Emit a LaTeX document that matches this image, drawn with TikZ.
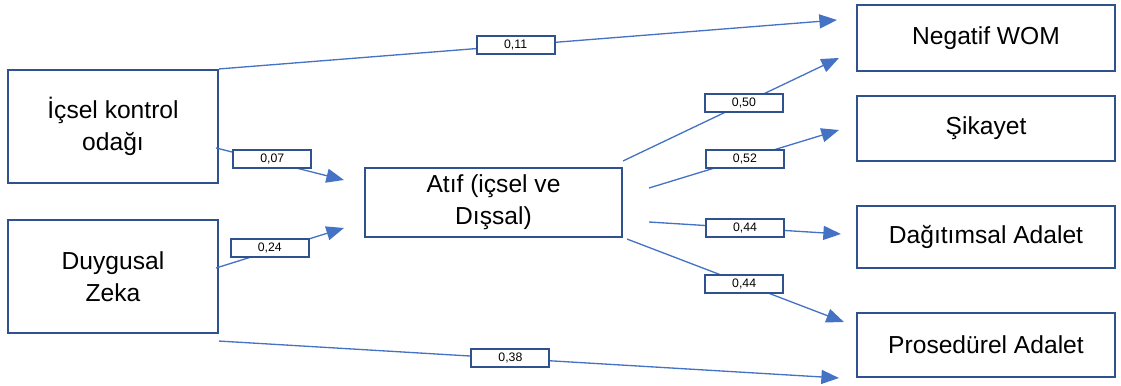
\documentclass[tikz,border=0pt]{standalone}
\usepackage{fontspec}
\setmainfont{Liberation Sans}
\usetikzlibrary{arrows.meta}
\definecolor{boxblue}{HTML}{2F528F}
\definecolor{lineblue}{HTML}{4472C4}
\begin{document}
\begin{tikzpicture}[
    var/.style={draw=boxblue, line width=1.2pt, fill=white, align=center,
      inner sep=0pt, font=\fontsize{14}{18}\selectfont},
    coef/.style={draw=boxblue, line width=1.1pt, fill=white, inner sep=0pt,
      minimum width=1.56cm, minimum height=0.36cm, font=\fontsize{7}{8}\selectfont},
    path/.style={draw=lineblue, line width=0.75pt, -{Triangle[length=10pt,width=8pt]}}
  ]
    \useasboundingbox (0,0) rectangle (22.42,7.70);
    \node[var, minimum width=4.2cm, minimum height=2.26cm] (ick) at (2.26,5.17) {İçsel kontrol\\odağı};
    \node[var, minimum width=4.2cm, minimum height=2.26cm] (dz) at (2.26,2.17) {Duygusal\\Zeka};
    \node[var, minimum width=5.14cm, minimum height=1.38cm] (atif) at (9.87,3.65) {Atıf (içsel ve\\Dışsal)};
    \node[var, minimum width=5.16cm, minimum height=1.32cm] (nw) at (19.72,6.94) {Negatif WOM};
    \node[var, minimum width=5.16cm, minimum height=1.30cm] (sk) at (19.72,5.13) {Şikayet};
    \node[var, minimum width=5.16cm, minimum height=1.24cm] (da) at (19.72,2.96) {Dağıtımsal Adalet};
    \node[var, minimum width=5.16cm, minimum height=1.28cm] (pa) at (19.72,0.80) {Prosedürel Adalet};
    % paths into the attribution box
    \draw[path] (ick.north east) -- node[coef, pos=0.48] {0,11} ([shift={(-0.38,0.36)}]nw.west);
    \draw[path] ([shift={(-0.06,-0.43)}]ick.east) -- node[coef, pos=0.44, yshift=2pt] {0,07} ([shift={(-0.40,0.45)}]atif.west);
    \draw[path] ([shift={(-0.06,0.17)}]dz.east) -- node[coef, pos=0.42, yshift=2pt] {0,24} ([shift={(-0.40,-0.51)}]atif.west);
    \draw[path] ([shift={(0,-0.14)}]dz.south east) -- node[coef, pos=0.47] {0,38} ([shift={(-0.34,-0.66)}]pa.west);
    % paths out of the attribution box
    \draw[path] ([shift={(0,0.12)}]atif.north east) -- node[coef, pos=0.56] {0,50} ([shift={(-0.34,-0.40)}]nw.west);
    \draw[path] ([shift={(0.52,0.29)}]atif.east) -- node[coef, pos=0.505] {0,52} ([shift={(-0.34,-0.03)}]sk.west);
    \draw[path] ([shift={(0.52,-0.39)}]atif.east) -- node[coef, pos=0.50] {0,44} ([shift={(-0.30,0.06)}]da.west);
    \draw[path] ([shift={(0.08,-0.02)}]atif.south east) -- node[coef, pos=0.54] {0,44} ([shift={(-0.24,0.46)}]pa.west);
\end{tikzpicture}
\end{document}
